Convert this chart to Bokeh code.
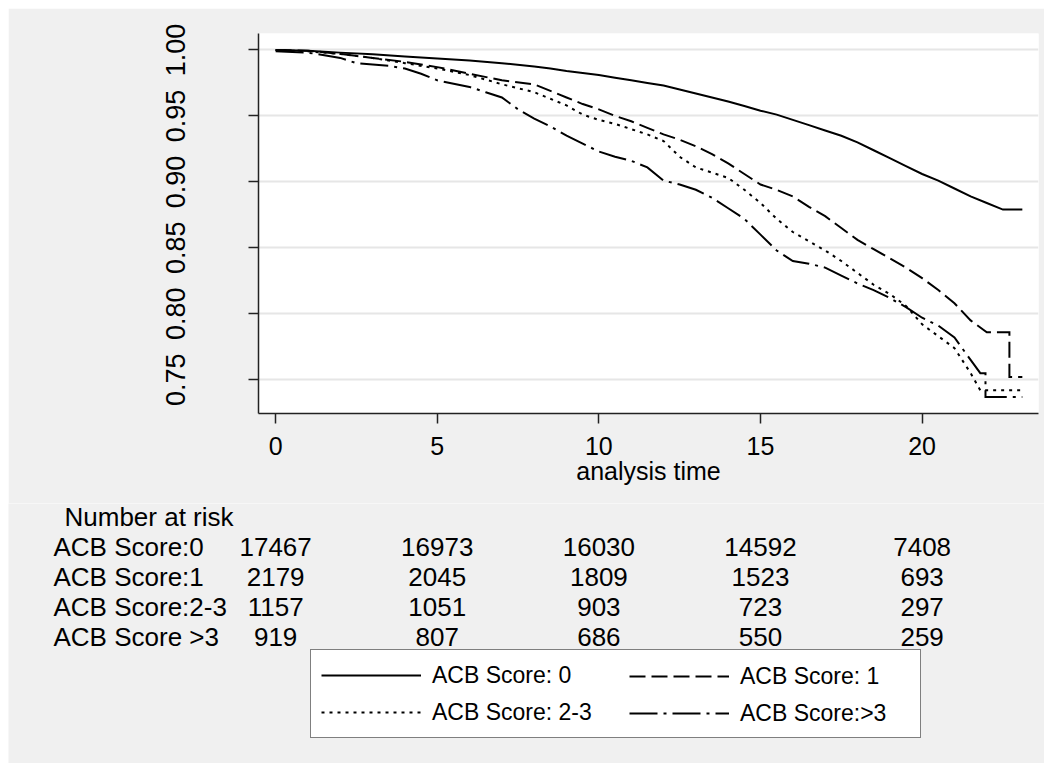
from bokeh.plotting import figure
from bokeh.models import (Range1d, FixedTicker, NumeralTickFormatter, Legend,
                          LegendItem, ColumnDataSource)
from bokeh.embed import file_html
from bokeh.resources import INLINE
from bokeh.core.properties import value

# ---------------- data ----------------
groups = ["ACB Score: 0", "ACB Score: 1", "ACB Score: 2-3", "ACB Score:>3"]
risk_labels = ["ACB Score:0", "ACB Score:1", "ACB Score:2-3", "ACB Score >3"]
risk_times = [0, 5, 10, 15, 20]
risk_0 = [17467, 16973, 16030, 14592, 7408]
risk_1 = [2179, 2045, 1809, 1523, 693]
risk_23 = [1157, 1051, 903, 723, 297]
risk_gt3 = [919, 807, 686, 550, 259]

t_0 = [0, 1, 2, 3, 4, 5, 6, 7, 8, 8.5, 9, 9.5, 10, 10.5, 11, 11.5, 12, 12.5, 13,
       13.5, 14, 14.5, 15, 15.5, 16, 16.5, 17, 17.5, 18, 18.5, 19, 19.5, 20,
       20.5, 21, 21.5, 22, 22.5, 23.1]
s_0 = [1.000, 0.9995, 0.998, 0.9967, 0.995, 0.9935, 0.992, 0.990, 0.9875, 0.986,
       0.984, 0.9825, 0.981, 0.979, 0.977, 0.975, 0.973, 0.970, 0.967, 0.964,
       0.961, 0.9575, 0.954, 0.951, 0.947, 0.943, 0.939, 0.935, 0.930, 0.924,
       0.918, 0.912, 0.906, 0.901, 0.895, 0.889, 0.884, 0.879, 0.879]

t_1 = [0, 1, 2, 3, 4, 5, 6, 7, 8, 8.5, 9, 9.5, 10, 10.5, 11, 11.5, 12, 12.5, 13,
       13.5, 14, 14.5, 15, 15.5, 16, 16.5, 17, 17.5, 18, 18.5, 19, 19.5, 20,
       20.5, 21, 21.5, 22, 22.7, 22.7, 23.1]
s_1 = [1.000, 0.9995, 0.997, 0.994, 0.991, 0.987, 0.982, 0.977, 0.974, 0.969,
       0.964, 0.959, 0.955, 0.950, 0.946, 0.941, 0.936, 0.932, 0.927, 0.921,
       0.914, 0.906, 0.898, 0.894, 0.889, 0.881, 0.874, 0.865, 0.856, 0.849,
       0.842, 0.835, 0.827, 0.818, 0.808, 0.795, 0.786, 0.786, 0.752, 0.752]

t_23 = [0, 1, 2, 3, 4, 5, 6, 7, 8, 8.5, 9, 9.5, 10, 10.5, 11, 11.5, 12, 12.5, 13,
        13.5, 14, 14.5, 15, 15.5, 16, 16.5, 17, 17.5, 18, 18.5, 19, 19.5, 20,
        20.5, 21, 21.5, 21.8, 23.1]
s_23 = [1.000, 0.999, 0.997, 0.994, 0.990, 0.986, 0.981, 0.974, 0.968, 0.963,
        0.958, 0.951, 0.947, 0.944, 0.940, 0.936, 0.931, 0.919, 0.911, 0.907,
        0.903, 0.894, 0.884, 0.872, 0.862, 0.855, 0.848, 0.840, 0.831, 0.822,
        0.815, 0.806, 0.792, 0.783, 0.774, 0.755, 0.742, 0.742]

t_gt3 = [0, 1, 2, 2.5, 3.5, 4, 4.5, 5, 6, 6.5, 7, 7.5, 8, 8.5, 9, 9.5, 10, 10.5,
         11, 11.5, 12, 12.5, 13, 13.5, 14, 14.5, 15, 15.5, 16, 16.5, 17, 17.5,
         18, 18.5, 19, 19.5, 20, 20.5, 21, 21.5, 21.8, 21.96, 21.96, 23.1]
s_gt3 = [0.999, 0.998, 0.994, 0.990, 0.988, 0.986, 0.982, 0.977, 0.972, 0.968,
         0.964, 0.955, 0.948, 0.942, 0.935, 0.929, 0.923, 0.919, 0.916, 0.911,
         0.901, 0.898, 0.894, 0.888, 0.880, 0.872, 0.860, 0.848, 0.840, 0.838,
         0.835, 0.829, 0.823, 0.818, 0.812, 0.805, 0.797, 0.791, 0.782, 0.765,
         0.755, 0.755, 0.737, 0.737]

y_ticks = [0.75, 0.80, 0.85, 0.90, 0.95, 1.00]
x_ticks = [0, 5, 10, 15, 20]

# ---------------- style / geometry ----------------
BG = "#F0F0F0"
FONT = "Liberation Sans"
dashes = ["solid", "16 6", "3 5", "28 6 3 6"]
series_t = [t_0, t_1, t_23, t_gt3]
series_s = [s_0, s_1, s_23, s_gt3]

ML, MR, MT, MB = 250, 6, 25, 90
FW, FH = 780, 380
X0, X1 = -0.53, 23.6
Y0, Y1 = 0.7244, 1.0125
PAGE = 8

p = figure(frame_width=FW, frame_height=FH, x_range=Range1d(X0, X1),
           y_range=Range1d(Y0, Y1), output_backend="svg", toolbar_location=None,
           min_border_left=ML, min_border_right=MR, min_border_top=MT,
           min_border_bottom=MB)
p.styles = {"margin": f"{PAGE}px {PAGE}px 0px {PAGE}px"}
p.background_fill_color = "white"
p.border_fill_color = BG
p.outline_line_color = None

for t, s, d in zip(series_t, series_s, dashes):
    p.line(x=t, y=s, line_color="black", line_width=2, line_dash=d,
           line_join="miter")

p.yaxis.ticker = FixedTicker(ticks=y_ticks)
p.yaxis.formatter = NumeralTickFormatter(format="0.00")
p.yaxis.major_label_orientation = "vertical"
p.yaxis.major_label_standoff = 63
p.xaxis.ticker = FixedTicker(ticks=x_ticks)
p.xaxis.major_label_standoff = 13
p.xaxis.axis_label = "analysis time"
p.xaxis.axis_label_standoff = -1
p.xaxis.axis_label_text_font_style = "normal"
p.xaxis.axis_label_text_font_size = "25px"
p.xaxis.axis_label_text_font = FONT
p.xaxis.axis_label_text_color = "black"
p.yaxis.major_label_text_font_size = "27px"
p.xaxis.major_label_text_font_size = "25px"
for ax in (p.xaxis, p.yaxis):
    ax.major_label_text_font = FONT
    ax.major_label_text_color = "black"
    ax.axis_line_color = "#222222"
    ax.axis_line_width = 1.5
    ax.major_tick_line_color = "#222222"
    ax.major_tick_line_width = 1.5
    ax.major_tick_out = 10
    ax.major_tick_in = 0
    ax.minor_tick_line_color = None
p.xgrid.grid_line_color = None
p.ygrid.grid_line_color = "#E6E6E6"
p.ygrid.grid_line_width = 2

# ---------------- risk table + legend (second root, full-width frame) ----------------
W2, H2 = ML + FW + MR, 260
ppu = FW / (X1 - X0)
top2 = PAGE + MT + FH + MB          # page y of this block's top edge
p2 = figure(frame_width=W2, frame_height=H2, min_border=0,
            x_range=Range1d(X0 - ML / ppu, X1 + MR / ppu),
            y_range=Range1d(top2 + H2, top2),
            x_axis_location=None, y_axis_location=None,
            output_backend="svg", toolbar_location=None)
p2.styles = {"margin": f"0px {PAGE}px {PAGE}px {PAGE}px"}
p2.extra_x_ranges = {"px": Range1d(PAGE, PAGE + W2)}
p2.background_fill_color = BG
p2.border_fill_color = BG
p2.outline_line_color = None
p2.grid.visible = False

txt = dict(text_font=value(FONT), text_font_size="26px",
           text_baseline="alphabetic", text_color="black")
p2.text(x=[64], y=[516], text=["Number at risk"], x_range_name="px",
        text_align="left", **txt)
rows = [risk_0, risk_1, risk_23, risk_gt3]
for i, (lab, vals) in enumerate(zip(risk_labels, rows)):
    yb = 546 + 30 * i
    p2.text(x=[53], y=[yb], text=[lab], x_range_name="px", text_align="left", **txt)
    src = ColumnDataSource(dict(x=risk_times, y=[yb] * len(vals),
                                t=[str(v) for v in vals]))
    p2.text(x="x", y="y", text="t", source=src, text_align="center", **txt)

# proxies carrying each curve's line style for the legend (one point: nothing drawn)
proxies = [p2.line(x=[t[0]], y=[top2 - 100], line_color="black", line_width=2,
                   line_dash=d) for t, d in zip(series_t, dashes)]

def mk_legend(idx, left_pg, bottom_pg, boxed):
    kw = dict(border_line_color="black", border_line_width=1.2,
              background_fill_color="white", background_fill_alpha=1.0,
              padding=10, label_width=478) if boxed else dict(
              border_line_color=None, background_fill_alpha=0.0, padding=0)
    return Legend(items=[LegendItem(label=groups[i], renderers=[proxies[i]]) for i in idx],
                  location=(left_pg - PAGE, (top2 + H2) - bottom_pg),
                  orientation="vertical", glyph_width=100, glyph_height=30,
                  label_standoff=11, spacing=7, margin=0,
                  label_text_font_size="23px", label_text_font=FONT,
                  label_text_color="black", **kw)

p2.add_layout(mk_legend([0, 2], 310, 738, True))
p2.add_layout(mk_legend([1, 3], 629, 728, False))

open("out.html", "w").write(file_html([p, p2], INLINE))
